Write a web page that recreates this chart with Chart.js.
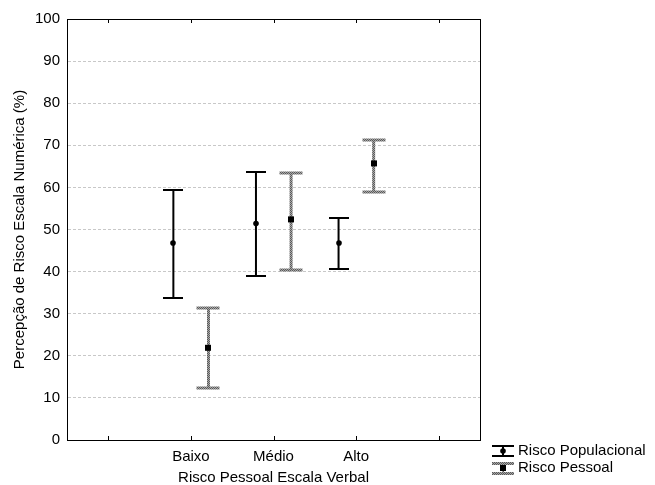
<!DOCTYPE html>
<html>
<head>
<meta charset="utf-8">
<script src="https://cdn.jsdelivr.net/npm/chart.js@4.4.0/dist/chart.umd.min.js"></script>
<style>
  html, body { margin: 0; padding: 0; background: #fff; }
</style>
</head>
<body>
<canvas id="myErrorChart" width="655" height="485"></canvas>
<script>
// Chart for Risco
var riscoChart = document.getElementById("myErrorChart");

//--------------------------Data----------
const riscoLabels = ["", "Baixo", "Médio", "Alto", ""];

const popMean = [null, 46.8, 51.4, 46.8, null];
const popLow = [null, 33.8, 38.9, 40.7, null];
const popHigh = [null, 59.4, 63.7, 52.7, null];

const pesMean = [null, 21.9, 52.4, 65.7, null];
const pesLow = [null, 12.3, 40.4, 58.9, null];
const pesHigh = [null, 31.3, 63.4, 71.3, null];

const yTicks = [0, 10, 20, 30, 40, 50, 60, 70, 80, 90, 100];

const fontFamily = "'Liberation Sans', Arial, sans-serif";

//--------------------------Helpers----------
function makeRange(low, high) {
  return low.map(function (l, i) {
    return l == null ? null : [l, high[i]];
  });
}

// grey dotted texture for the second series
function greyPattern() {
  var c = document.createElement("canvas");
  c.width = 2;
  c.height = 2;
  var g = c.getContext("2d");
  g.fillStyle = "#a8a8a8";
  g.fillRect(0, 0, 2, 2);
  g.fillStyle = "#5a5a5a";
  g.fillRect(0, 0, 1, 1);
  g.fillRect(1, 1, 1, 1);
  return g.createPattern(c, "repeat");
}
const greyFill = greyPattern();

function drawMarker(ctx, kind, x, y) {
  ctx.fillStyle = "#000";
  if (kind === "square") {
    ctx.fillRect(x - 3, y - 3, 6, 6);
  } else {
    ctx.beginPath();
    ctx.arc(x, y, 2.8, 0, Math.PI * 2);
    ctx.fill();
  }
}

//--------------------------Error bar plugin----------
const errorBarPlugin = {
  id: "errorBars",
  afterDatasetsDraw(chart) {
    const ctx = chart.ctx;
    const yScale = chart.scales.y;
    ctx.save();
    chart.data.datasets.forEach(function (ds, di) {
      const meta = chart.getDatasetMeta(di);
      meta.data.forEach(function (bar, i) {
        if (ds.means[i] == null) return;
        const x = Math.round(bar.x);
        const yTop = Math.round(yScale.getPixelForValue(ds.data[i][1]));
        const yBot = Math.round(yScale.getPixelForValue(ds.data[i][0]));
        const yMid = yScale.getPixelForValue(ds.means[i]);
        const w = ds.capWidth;
        const h = ds.capHeight;
        ctx.fillStyle = ds.backgroundColor;
        ctx.fillRect(x - w / 2, yTop - h / 2, w, h);
        ctx.fillRect(x - w / 2, yBot - h / 2, w, h);
        drawMarker(ctx, ds.marker, x, yMid);
      });
    });
    ctx.restore();
  },
};

//--------------------------Frame + legend plugin----------
const framePlugin = {
  id: "frame",
  afterDraw(chart) {
    const ctx = chart.ctx;
    const a = chart.chartArea;
    const xScale = chart.scales.x;
    ctx.save();
    ctx.strokeStyle = "#000";
    ctx.lineWidth = 1;
    ctx.strokeRect(Math.round(a.left) + 0.5, Math.round(a.top) + 0.5,
      Math.round(a.right - a.left), Math.round(a.bottom - a.top));
    ctx.beginPath();
    for (let i = 0; i < riscoLabels.length; i++) {
      const tx = Math.round(xScale.getPixelForTick(i)) + 0.5;
      ctx.moveTo(tx, a.bottom);
      ctx.lineTo(tx, a.bottom - 4);
      ctx.moveTo(tx, a.top);
      ctx.lineTo(tx, a.top + 4);
    }
    ctx.stroke();

    // legend below right corner of the plot
    const lx = Math.round(a.right) + 23;
    let ly = Math.round(a.bottom) + 11;
    ctx.font = "15px " + fontFamily;
    ctx.textBaseline = "middle";
    ctx.textAlign = "left";
    chart.data.datasets.forEach(function (ds) {
      ctx.fillStyle = ds.backgroundColor;
      ctx.fillRect(lx - 11, ly - 6, 22, ds.capHeight);
      ctx.fillRect(lx - 11, ly + 4, 22, ds.capHeight);
      ctx.fillRect(lx - 1, ly - 5, 2, 10);
      drawMarker(ctx, ds.marker, lx, ly);
      ctx.fillStyle = "#000";
      ctx.fillText(ds.label, lx + 15, ly);
      ly += 17;
    });
    ctx.restore();
  },
};

//--------------------------Chart----------
const riscoData = {
  labels: riscoLabels,
  datasets: [
    {
      label: "Risco Populacional",
      data: makeRange(popLow, popHigh),
      means: popMean,
      marker: "circle",
      backgroundColor: "#000",
      capWidth: 20,
      capHeight: 2,
      maxBarThickness: 2,
    },
    {
      label: "Risco Pessoal",
      data: makeRange(pesLow, pesHigh),
      means: pesMean,
      marker: "square",
      backgroundColor: greyFill,
      capWidth: 23,
      capHeight: 3,
      maxBarThickness: 3,
    },
  ],
};

const riscoConfig = {
  type: "bar",
  data: riscoData,
  plugins: [errorBarPlugin, framePlugin],
  options: {
    responsive: false,
    animation: false,
    categoryPercentage: 0.85,
    barPercentage: 0.5,
    layout: {
      padding: { left: 11, top: 19, right: 175, bottom: 0 },
    },
    font: { family: fontFamily, size: 15 },
    color: "#000",
    plugins: {
      tooltip: { enabled: false },
      legend: { display: false },
    },
    scales: {
      y: {
        min: 0,
        max: 100,
        afterBuildTicks: function (scale) {
          scale.ticks = yTicks.map(function (v) {
            return { value: v };
          });
        },
        grid: {
          drawTicks: false,
          color: function (c) {
            return c.tick.value === 0 || c.tick.value === 100 ? "rgba(0,0,0,0)" : "#c8c8c8";
          },
          lineWidth: 1,
        },
        border: { display: true, color: "#000", dash: [3, 2] },
        ticks: {
          padding: 7,
          color: "#000",
          font: { family: fontFamily, size: 15 },
        },
        title: {
          display: true,
          text: "Percepção de Risco Escala Numérica (%)",
          color: "#000",
          padding: { top: 0, bottom: -1 },
          font: { family: fontFamily, size: 15 },
        },
      },
      x: {
        offset: true,
        border: { display: true, color: "#000" },
        grid: { display: false, drawTicks: false },
        ticks: {
          padding: 8,
          color: "#000",
          maxRotation: 0,
          autoSkip: false,
          font: { family: fontFamily, size: 15 },
        },
        title: {
          display: true,
          text: "Risco Pessoal Escala Verbal",
          color: "#000",
          padding: { top: -4, bottom: 0 },
          font: { family: fontFamily, size: 15, lineHeight: 1 },
        },
      },
    },
  },
};

const myChart1 = new Chart(riscoChart, riscoConfig);
</script>
</body>
</html>
